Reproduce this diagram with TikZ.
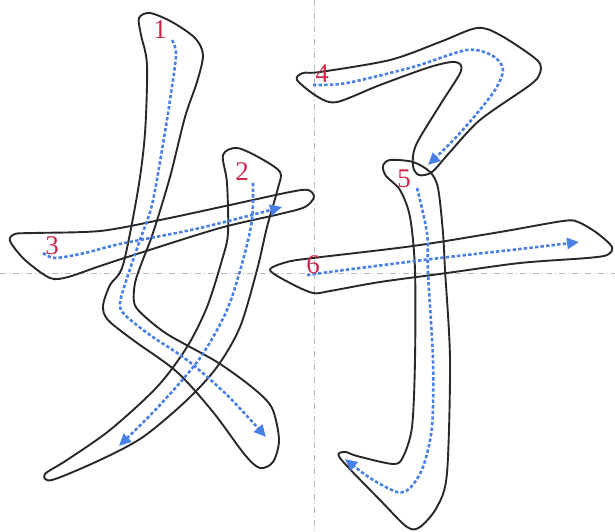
\documentclass[tikz,border=0pt]{standalone}
\usepackage{fontspec}
\setmainfont{Liberation Serif}
\usetikzlibrary{arrows.meta}
\definecolor{guide}{RGB}{185,185,185}
\definecolor{pathblue}{RGB}{72,128,232}
\definecolor{numred}{RGB}{205,40,75}
\definecolor{outline}{RGB}{40,40,40}
\tikzset{
  guideline/.style={guide, line width=0.9pt, dash pattern=on 6pt off 3pt on 1pt off 3pt},
  strokeout/.style={outline, line width=1.9pt, line join=round},
  strokepath/.style={pathblue, line width=2.6pt, dash pattern=on 3.4pt off 2.2pt, -{Triangle[length=12pt,width=11pt]}},
  numlabel/.style={numred, font=\fontsize{27}{27}\selectfont, inner sep=0pt}
}
\begin{document}
\begin{tikzpicture}[x=1pt,y=-1pt]
\useasboundingbox (0,0) rectangle (615,532);
% guide lines
\draw[guideline] (314,0) -- (314,532);
\draw[guideline] (0,273) -- (615,273);

% stroke 1
\draw[strokeout] plot[smooth cycle, tension=0.5] coordinates {
 (139,18) (150,13) (172,22) (195,38) (203,55) (197,82) (185,117) (170,177)
 (153,233) (142,262) (135,283) (134,302) (141,313) (167,334) (217,362)
 (253,388) (272,408) (279,440) (273,462) (260,468) (245,455) (213,412)
 (177,372) (133,340) (108,320) (103,306) (110,285) (123,265) (138,190)
 (145,133) (147,65) (141,35)};
% stroke 2
\draw[strokeout] plot[smooth cycle, tension=0.5] coordinates {
 (223,155) (237,148) (260,158) (280,172) (278,188) (267,227) (257,270)
 (240,327) (217,367) (187,400) (143,437) (100,460) (52,480) (45,474)
 (67,460) (110,430) (157,387) (187,347) (207,307) (222,260) (228,233)
 (227,183)};
% stroke 3
\draw[strokeout] plot[smooth cycle, tension=0.5] coordinates {
 (10,241) (15,234) (33,233) (100,231) (160,220) (230,205) (290,192)
 (308,190) (314,197) (305,207) (280,214) (220,228) (140,253) (100,266)
 (68,277) (50,278) (25,260)};
% stroke 4
\draw[strokeout] plot[smooth cycle, tension=0.5] coordinates {
 (297,80) (303,73) (320,72) (390,60) (440,42) (477,28) (500,35) (537,60)
 (540,73) (530,85) (480,120) (450,152) (432,172) (419,175) (413,166)
 (416,145) (440,105) (461,71) (455,62) (430,67) (380,85) (337,102)
 (318,97)};
% stroke 5
\draw[strokeout] plot[smooth cycle, tension=0.5] coordinates {
 (383,166) (390,160) (413,162) (430,172) (438,188) (443,233) (445,270)
 (450,360) (447,473) (437,507) (420,527) (407,527) (380,500) (340,458)
 (345,452) (357,456) (393,464) (403,457) (412,427) (415,360) (415,270)
 (410,217) (400,190) (386,176)};
% stroke 6
\draw[strokeout] plot[smooth cycle, tension=0.5] coordinates {
 (270,270) (287,262) (313,258) (413,246) (500,232) (563,221) (578,222)
 (597,233) (612,247) (607,255) (587,258) (520,263) (447,273) (380,282)
 (330,291) (313,293) (290,283)};

% direction paths
\draw[strokepath] plot[smooth, tension=0.5] coordinates {
 (172,40) (176,55) (170,100) (162,150) (152,205) (140,240) (128,275)
 (120,303) (125,315) (150,335) (187,360) (227,395) (266,437)};
\draw[strokepath] plot[smooth, tension=0.5] coordinates {
 (253,183) (252,220) (243,260) (227,310) (200,358) (160,405) (119,446)};
\draw[strokepath] plot[smooth, tension=0.5] coordinates {
 (43,253) (55,258) (85,253) (120,244) (200,228) (282,207)};
\draw[strokepath] plot[smooth, tension=0.5] coordinates {
 (313,85) (347,83) (413,67) (467,50) (493,56) (503,70) (493,93)
 (460,133) (428,165)};
\draw[strokepath] plot[smooth, tension=0.5] coordinates {
 (417,188) (427,233) (428,273) (433,360) (432,427) (423,467) (410,488)
 (397,492) (370,478) (345,459)};
\draw[strokepath] plot[smooth, tension=0.5] coordinates {
 (307,275) (360,268) (440,258) (520,249) (579,242)};

% labels
\node[numlabel] (n1) at (160,30) {1};
\node[numlabel] (n2) at (242,172) {2};
\node[numlabel] (n3) at (52,246) {3};
\node[numlabel] (n4) at (322,74) {4};
\node[numlabel] (n5) at (404,179) {5};
\node[numlabel] (n6) at (313,265) {6};
\end{tikzpicture}
\end{document}
